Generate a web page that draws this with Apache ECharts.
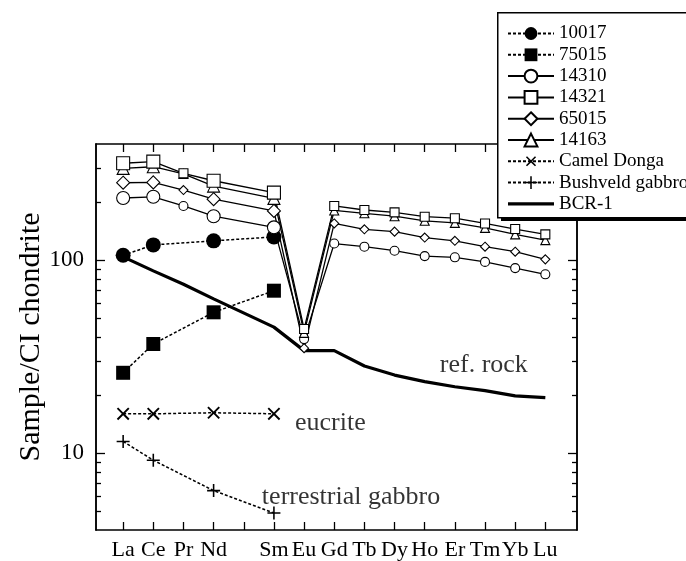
<!DOCTYPE html>
<html>
<head>
<meta charset="utf-8">
<script src="https://cdn.jsdelivr.net/npm/echarts@6/dist/echarts.min.js"></script>
<style>html,body{margin:0;padding:0;background:#fff}#c{width:686px;height:561px}</style>
</head>
<body>
<div id="c"></div>
<script>
// ---- data ----
const elements = ['La','Ce','Pr','Nd','Pm','Sm','Eu','Gd','Tb','Dy','Ho','Er','Tm','Yb','Lu'];
const atomicNo = [57,58,59,60,61,62,63,64,65,66,67,68,69,70,71];
const labelledElements = ['La','Ce','Pr','Nd','Sm','Eu','Gd','Tb','Dy','Ho','Er','Tm','Yb','Lu'];
const yMajorTicks = [10, 100];
const yMinorTicks = [5,6,7,8,9,20,30,40,50,60,70,80,90,200,300];

const s10017   = [106, 120, null, 126, null, 132, null, null, null, null, null, null, null, null, null];
const s75015   = [26.1, 36.8, null, 53.7, null, 69.5, null, null, null, null, null, null, null, null, null];
const s14310   = [210, 213, 191, 169, null, 148, 39, 122, 117.5, 112, 105, 103.5, 98, 91, 84.5];
const s14321   = [318, 324, 282, 258, null, 224, 44, 191, 182, 177, 168, 165, 155, 145, 136];
const s65015   = [252, 253, 231, 207, null, 180, 35, 155, 144.5, 140.6, 131, 126, 117.5, 110.7, 101];
const s14163   = [299, 305, 280, 242, null, 209, 42, 181, 175, 169, 160, 156, 147, 136, 127];
const camelDonga = [16, 16, null, 16.2, null, 16, null, null, null, null, null, null, null, null, null];
const bushveld   = [11.5, 9.2, null, 6.4, null, 4.9, null, null, null, null, null, null, null, null, null];
const bcr1       = [104, 88, 75, 63, null, 45, 34, 34, 28.3, 25.4, 23.5, 22.1, 21.1, 19.8, 19.4];

const legendNames = ['10017','75015','14310','14321','65015','14163','Camel Donga','Bushveld gabbro','BCR-1'];

const annotations = [
  {name: 'ref. rock', el: 67.5, v: 28.6},
  {name: 'eucrite', el: 62.7, v: 14.3},
  {name: 'terrestrial gabbro', el: 61.6, v: 5.93}
];

// ---- chart ----
const FONT = 'Liberation Serif';
const pts = arr => arr.map((v, i) => v == null ? null : [atomicNo[i], v]).filter(p => p);
const bigAt = [57, 58, 60, 62];
const sizeFn = (big, small) => (val) => bigAt.indexOf(val[0]) >= 0 ? big : small;
const plusPath = 'path://M4.4,0h1.2v4.4h4.4v1.2h-4.4v4.4h-1.2v-4.4h-4.4v-1.2h4.4z';
const thickLineIcon = 'path://M0,0L0.01,0L0,0.01Z M0,6.3h46v3.4h-46Z M0,16L0.01,16L0,15.99Z';

function openSeries(name, data, symbol, big, small) {
  return {
    name, type: 'line', data: pts(data), symbol,
    symbolSize: sizeFn(big, small),
    lineStyle: {color: '#000', width: 1.3},
    itemStyle: {color: '#fff', borderColor: '#000', borderWidth: 1.1},
    emphasis: {disabled: true}, z: 3
  };
}
function dotSeries(name, data, symbol, size, rotate) {
  return {
    name, type: 'line', data: pts(data), symbol, symbolSize: size, symbolRotate: rotate || 0,
    lineStyle: {color: '#000', width: 1.5, type: [3, 2]},
    itemStyle: {color: '#000', borderColor: '#000', borderWidth: 0},
    emphasis: {disabled: true}, z: 3
  };
}

const chart = echarts.init(document.getElementById('c'), null, {renderer: 'canvas'});
const axisLine = {show: true, onZero: false, lineStyle: {color: '#000', width: 1.5}};
const xMin = 56.1, xMax = 72.05, yMin = 4, yMax = 400;

const option = {
  animation: false,
  backgroundColor: '#fff',
  grid: {left: 96, right: 109, top: 144, bottom: 31, containLabel: false},
  graphic: [
    {type: 'rect', left: 501, top: 16, z: 89, silent: true,
     shape: {width: 200, height: 205}, style: {fill: '#000'}},
    {type: 'rect', left: 497, top: 12, z: 90, silent: true,
     shape: {width: 200, height: 205}, style: {fill: '#fff', stroke: '#000', lineWidth: 1.5}}
  ],
  xAxis: [
    {type: 'value', min: xMin, max: xMax, position: 'bottom', axisLine,
     splitLine: {show: false},
     axisTick: {show: true, inside: true, length: 8, lineStyle: {color: '#000', width: 1.3}, customValues: atomicNo},
     axisLabel: {show: true, margin: 9, color: '#000', fontFamily: FONT, fontSize: 22,
       customValues: labelledElements.map(e => atomicNo[elements.indexOf(e)]),
       formatter: v => elements[atomicNo.indexOf(Math.round(v))]}},
    {type: 'value', min: xMin, max: xMax, position: 'top', axisLine,
     splitLine: {show: false},
     axisTick: {show: true, inside: true, length: 8, lineStyle: {color: '#000', width: 1.3}, customValues: atomicNo},
     axisLabel: {show: false}}
  ],
  yAxis: [
    {type: 'log', logBase: 10, min: yMin, max: yMax, position: 'left', axisLine,
     splitLine: {show: false},
     axisTick: {show: true, inside: true, length: 9, lineStyle: {color: '#000', width: 1.3}, customValues: yMajorTicks},
     axisLabel: {show: true, margin: 12, color: '#000', fontFamily: FONT, fontSize: 23, customValues: yMajorTicks},
     name: 'Sample/CI chondrite', nameLocation: 'middle', nameGap: 50, nameMoveOverlap: false,
     nameTextStyle: {color: '#000', fontFamily: FONT, fontSize: 30}},
    {type: 'log', logBase: 10, min: yMin, max: yMax, position: 'left', axisLine,
     splitLine: {show: false},
     axisTick: {show: true, inside: true, length: 5, lineStyle: {color: '#000', width: 1.3}, customValues: yMinorTicks},
     axisLabel: {show: false}},
    {type: 'log', logBase: 10, min: yMin, max: yMax, position: 'right', axisLine,
     splitLine: {show: false},
     axisTick: {show: true, inside: true, length: 9, lineStyle: {color: '#000', width: 1.3}, customValues: yMajorTicks},
     axisLabel: {show: false}},
    {type: 'log', logBase: 10, min: yMin, max: yMax, position: 'right', axisLine,
     splitLine: {show: false},
     axisTick: {show: true, inside: true, length: 5, lineStyle: {color: '#000', width: 1.3}, customValues: yMinorTicks},
     axisLabel: {show: false}}
  ],
  legend: {
    orient: 'vertical', left: 497, top: 12, z: 100,
    data: legendNames.map(n => n === 'BCR-1' ? {name: n, icon: thickLineIcon, itemStyle: {color: '#000'}} : {name: n}),
    itemWidth: 46, itemHeight: 16, itemGap: 2.3,
    padding: [12, 12, 10, 10],
    backgroundColor: 'transparent', borderWidth: 0,
    textStyle: {color: '#000', fontFamily: FONT, fontSize: 19},
    selectedMode: false
  },
  series: [
    {name: 'BCR-1', type: 'line', data: pts(bcr1), symbol: 'none',
     lineStyle: {color: '#000', width: 3.2}, itemStyle: {color: '#000'}, emphasis: {disabled: true}, z: 2},
    dotSeries('10017', s10017, 'circle', 15),
    dotSeries('75015', s75015, 'rect', 14),
    openSeries('14310', s14310, 'circle', 13, 9),
    openSeries('65015', s65015, 'diamond', 13, 9),
    openSeries('14163', s14163, 'triangle', 12, 9),
    openSeries('14321', s14321, 'rect', 13, 9),
    dotSeries('Camel Donga', camelDonga, plusPath, 16, 45),
    dotSeries('Bushveld gabbro', bushveld, plusPath, 13, 0),
    {name: 'notes', type: 'scatter', symbolSize: 0, silent: true,
     data: annotations.map(a => ({name: a.name, value: [a.el, a.v]})),
     label: {show: true, position: 'right', distance: 0, formatter: p => p.name,
       color: '#000', fontFamily: FONT, fontSize: 26}}
  ]
};
chart.setOption(option);
</script>
</body>
</html>
